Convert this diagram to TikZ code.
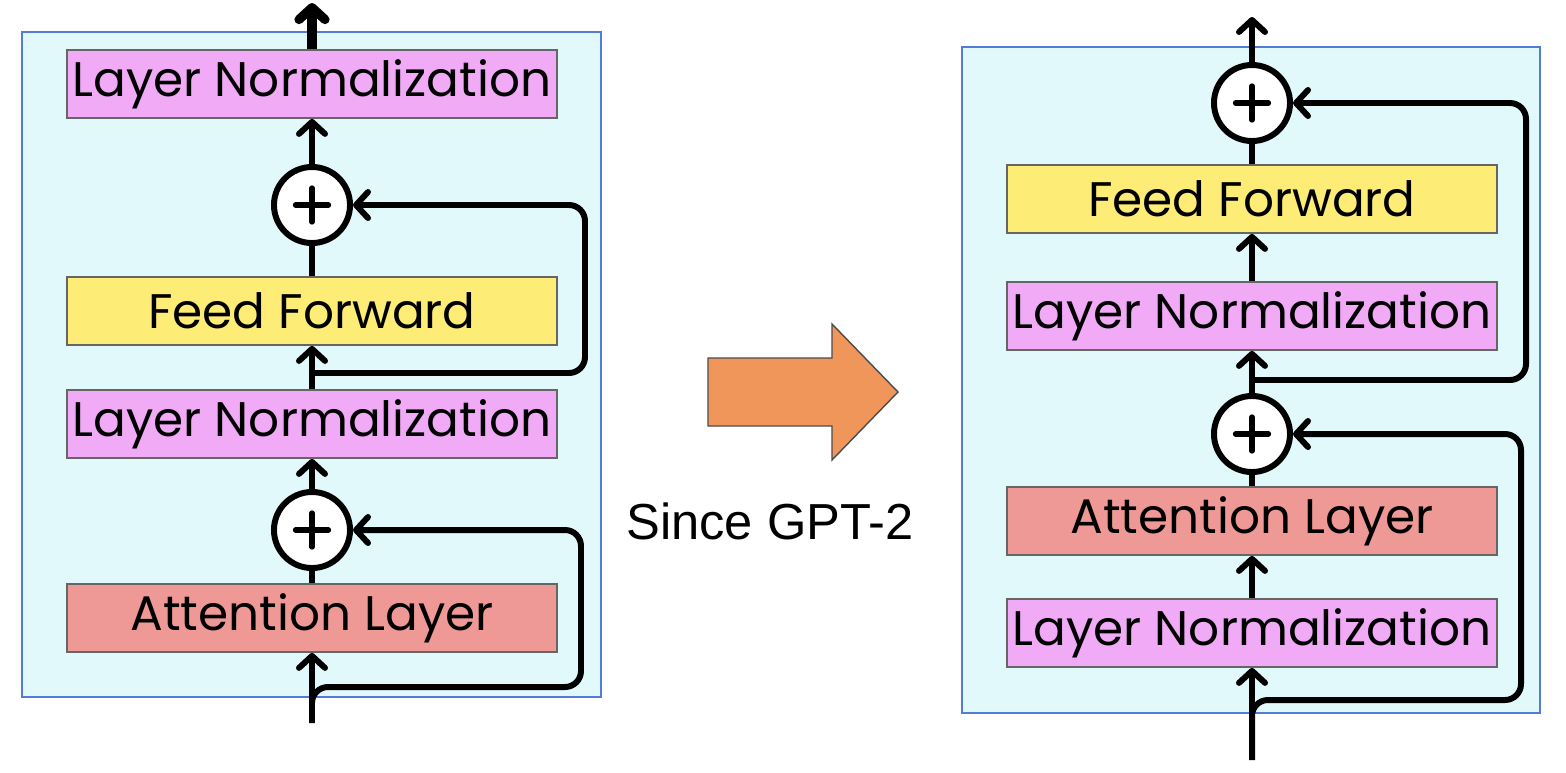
\documentclass[tikz,border=0pt]{standalone}
\usepackage{fontspec}
\setmainfont{Poppins}
\newfontfamily\notefont{Liberation Sans}
\usetikzlibrary{arrows.meta}
\definecolor{panelCyan}{RGB}{226,249,252}
\definecolor{panelBlue}{RGB}{82,124,214}
\definecolor{normViolet}{RGB}{240,170,246}
\definecolor{ffYellow}{RGB}{253,236,118}
\definecolor{attnRed}{RGB}{238,153,149}
\definecolor{shiftOrange}{RGB}{240,150,90}

\tikzset{
  layerbox/.style={draw=black!60, line width=0.5pt, minimum width=4.9cm, minimum height=0.68cm,
    inner sep=0pt, font=\fontsize{13.8}{16}\selectfont},
  normbox/.style={layerbox, fill=normViolet},
  ffbox/.style={layerbox, fill=ffYellow},
  attnbox/.style={layerbox, fill=attnRed},
  addnode/.style={circle, draw, fill=white, line width=1.7pt, minimum size=0.76cm, inner sep=0pt,
    path picture={
      \draw[line width=1.5pt, line cap=round]
        ([xshift=-0.165cm]path picture bounding box.center) -- ([xshift=0.165cm]path picture bounding box.center)
        ([yshift=-0.17cm]path picture bounding box.center) -- ([yshift=0.17cm]path picture bounding box.center);}},
  plain/.style={line width=1.7pt},
  flow/.style={plain, -{Straight Barb[length=1.2mm, width=2.6mm, line cap=round, line join=round]}},
  skipline/.style={flow, rounded corners=0.16cm},
  panel/.style={fill=panelCyan, draw=panelBlue, line width=0.6pt}
}

\begin{document}
\begin{tikzpicture}[x=0.01cm, y=-0.01cm]
  \useasboundingbox (0,0) rectangle (1566,772);

  % post-LN block
  \draw[panel] (22,32) rectangle (601,697);
  \node[normbox] (lnTopL) at (312,84) {Layer Normalization};
  \node[addnode] (addFfL) at (312,205) {};
  \node[ffbox] (ffL) at (312,311) {Feed Forward};
  \node[normbox] (lnMidL) at (312,424) {Layer Normalization};
  \node[addnode] (addAttnL) at (312,530) {};
  \node[attnbox] (attnL) at (312,618) {Attention Layer};
  \coordinate (outL) at (312,3);
  \coordinate (splitFfL) at (312,373);
  \coordinate (inL) at (312,723);

  \draw[flow, line width=2.6pt] (lnTopL.north) -- (outL);
  \draw[flow] (addFfL.north) -- (lnTopL.south);
  \draw[plain] (ffL.north) -- (addFfL.south);
  \draw[flow] (lnMidL.north) -- (ffL.south);
  \draw[flow] (addAttnL.north) -- (lnMidL.south);
  \draw[plain] (attnL.north) -- (addAttnL.south);
  \draw[flow] (inL) -- (attnL.south);
  \draw[skipline] (splitFfL) -- ++(273,0) |- (addFfL.east);
  \draw[skipline] (inL) -- ++(0,-36) -- ++(269,0) |- (addAttnL.east);

  % arrow in between
  \draw[fill=shiftOrange, draw=black!70, line width=0.4pt]
    (708,358) -- (832,358) -- (832,324) -- (898,392) -- (832,460) -- (832,426) -- (708,426) -- cycle;
  \node[font=\notefont\fontsize{14.4}{17}\selectfont] (since) at (770,521) {Since GPT-2};

  % pre-LN block
  \draw[panel] (962,47) rectangle (1540,713);
  \node[addnode] (addFfR) at (1252,103) {};
  \node[ffbox] (ffR) at (1252,199) {Feed Forward};
  \node[normbox] (lnMidR) at (1252,316) {Layer Normalization};
  \node[addnode] (addAttnR) at (1252,434) {};
  \node[attnbox] (attnR) at (1252,521) {Attention Layer};
  \node[normbox] (lnBotR) at (1252,633) {Layer Normalization};
  \coordinate (outR) at (1252,17);
  \coordinate (splitFfR) at (1252,380);
  \coordinate (inR) at (1252,760);

  \draw[flow] (addFfR.north) -- (outR);
  \draw[plain] (ffR.north) -- (addFfR.south);
  \draw[flow] (lnMidR.north) -- (ffR.south);
  \draw[flow] (addAttnR.north) -- (lnMidR.south);
  \draw[plain] (attnR.north) -- (addAttnR.south);
  \draw[flow] (lnBotR.north) -- (attnR.south);
  \draw[flow] (inR) -- (lnBotR.south);
  \draw[skipline] (splitFfR) -- ++(274,0) |- (addFfR.east);
  \draw[skipline] (inR) -- ++(0,-60) -- ++(269,0) |- (addAttnR.east);
\end{tikzpicture}
\end{document}
